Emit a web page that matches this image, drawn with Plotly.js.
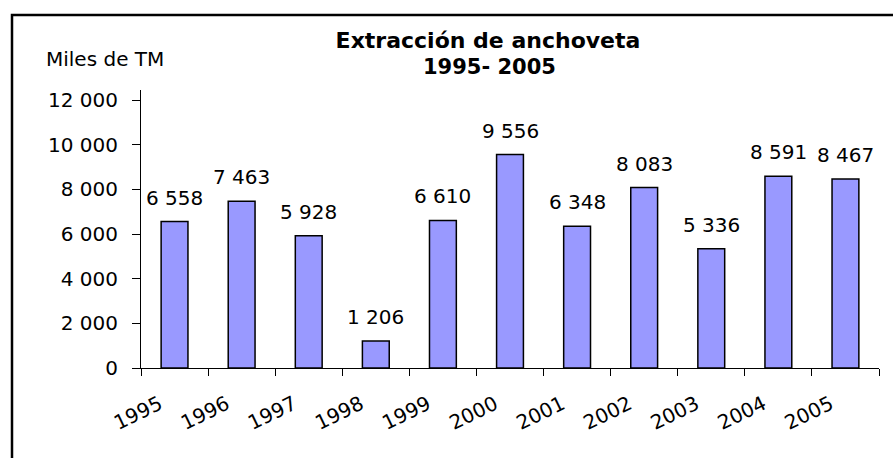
<!DOCTYPE html>
<html>
<head>
<meta charset="utf-8">
<script src="https://cdn.plot.ly/plotly-3.0.1.min.js"></script>
<style>html,body{margin:0;padding:0;background:#fff;}</style>
</head>
<body>
<div id="chart" style="width:893px;height:458px;"></div>
<script>
var years = ['1995','1996','1997','1998','1999','2000','2001','2002','2003','2004','2005'];
var values = [6558, 7463, 5928, 1206, 6610, 9556, 6348, 8083, 5336, 8591, 8467];
var yTicks = [0, 2000, 4000, 6000, 8000, 10000, 12000];
var titleLine1 = '<b>Extracción de anchoveta</b>';
var titleLine2 = '<b>1995- 2005</b>';
var unitLabel = 'Miles de TM';

function fmt(v) {
  return String(v).replace(/\B(?=(\d{3})+(?!\d))/g, ' ');
}

var FONT = 'DejaVu Sans, Arial, sans-serif';

var trace = {
  type: 'bar',
  x: years,
  y: values,
  marker: { color: '#9999FF', line: { color: '#000000', width: 1.5 } },
  hoverinfo: 'x+y'
};

var annotations = years.map(function (yr, i) {
  return {
    x: i, y: values[i], xref: 'x', yref: 'y',
    text: fmt(values[i]), showarrow: false,
    xanchor: 'center', yanchor: 'bottom', yshift: 10,
    font: { family: FONT, size: 20, color: '#000' }
  };
});
annotations.push({
  xref: 'paper', yref: 'paper',
  x: (44 - 141) / 738, y: (368 - 59) / 278,
  xanchor: 'left', yanchor: 'middle',
  text: unitLabel, showarrow: false,
  font: { family: FONT, size: 20, color: '#000' }
});
annotations.push({
  xref: 'paper', yref: 'paper',
  x: (489 - 141) / 738, y: (368 - 67) / 278,
  xanchor: 'center', yanchor: 'middle',
  text: titleLine2, showarrow: false,
  font: { family: FONT, size: 21, color: '#000' }
});

var layout = {
  width: 893, height: 458,
  margin: { l: 141, r: 14, t: 90, b: 90, pad: 0 },
  paper_bgcolor: '#ffffff',
  plot_bgcolor: '#ffffff',
  separators: ', ',
  showlegend: false,
  bargap: 0.6,
  font: { family: FONT, size: 20, color: '#000' },
  title: {
    text: titleLine1,
    font: { family: FONT, size: 22, color: '#000' },
    x: 488 / 893, xanchor: 'center', xref: 'container',
    y: 1 - 40 / 458, yanchor: 'middle', yref: 'container'
  },
  xaxis: {
    type: 'category',
    range: [-0.5, years.length - 0.5],
    autorange: false,
    showgrid: false, zeroline: false,
    showline: true, linecolor: '#000', linewidth: 1,
    ticks: 'outside', ticklen: 7, tickwidth: 1, tickcolor: '#000',
    tickson: 'boundaries',
    tickangle: -26,
    ticklabelstandoff: 16,
    ticklabelshift: -15,
    tickfont: { family: FONT, size: 20, color: '#000' }
  },
  yaxis: {
    range: [0, 12450],
    autorange: false,
    tickvals: yTicks,
    ticktext: yTicks.map(fmt),
    showgrid: false, zeroline: false,
    showline: true, linecolor: '#000', linewidth: 1,
    ticks: 'outside', ticklen: 8, tickwidth: 1, tickcolor: '#000',
    ticklabelstandoff: 10,
    tickfont: { family: FONT, size: 20, color: '#000' }
  },
  annotations: annotations,
  shapes: [{
    type: 'rect', xref: 'paper', yref: 'paper',
    x0: (12 - 141) / 738, x1: (905 - 141) / 738,
    y0: (368 - 470) / 278, y1: (368 - 15) / 278,
    line: { color: '#000', width: 2.5 },
    fillcolor: 'rgba(0,0,0,0)',
    layer: 'below'
  }]
};

Plotly.newPlot('chart', [trace], layout, { displayModeBar: false, staticPlot: true });
</script>
</body>
</html>
